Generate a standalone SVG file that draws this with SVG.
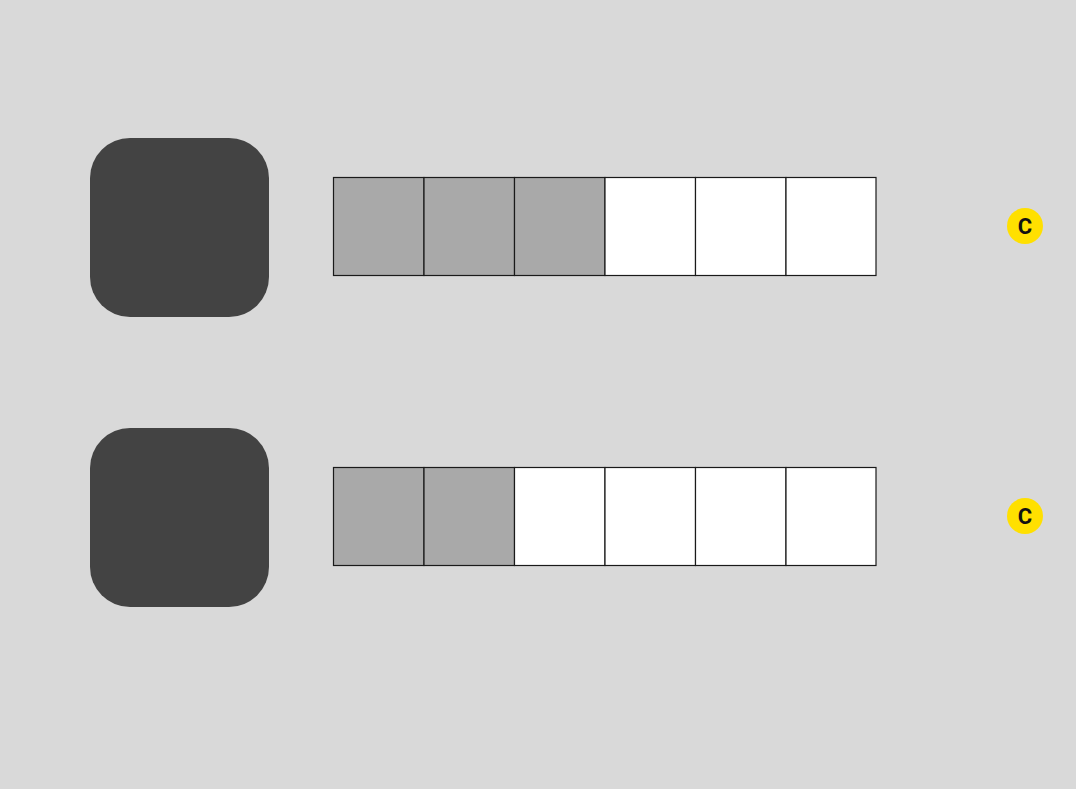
<svg xmlns="http://www.w3.org/2000/svg" width="1076" height="789" viewBox="0 0 1076 789">
<style>
.tile{fill:#434343}
.cell{stroke:#1a1a1a;stroke-width:1.2}
.on{fill:#a9a9a9}
.off{fill:#ffffff}
.badge{fill:#ffe000}
.lbl{font-family:Roboto,"Liberation Sans",sans-serif;font-weight:bold;font-size:22px;fill:#111;text-anchor:middle}
</style>
<rect width="1076" height="789" fill="#d9d9d9"/>
<g id="tile1"><rect class="tile" x="90" y="138" width="179" height="179" rx="40"/></g>
<g id="tile2"><rect class="tile" x="90" y="428" width="179" height="179" rx="40"/></g>
<g id="row1">
<rect class="cell on" x="333.5" y="177.5" width="90.5" height="98"/>
<rect class="cell on" x="424" y="177.5" width="90.5" height="98"/>
<rect class="cell on" x="514.5" y="177.5" width="90.5" height="98"/>
<rect class="cell off" x="605" y="177.5" width="90.5" height="98"/>
<rect class="cell off" x="695.5" y="177.5" width="90.5" height="98"/>
<rect class="cell off" x="786" y="177.5" width="90" height="98"/>
</g>
<g id="row2">
<rect class="cell on" x="333.5" y="467.5" width="90.5" height="98"/>
<rect class="cell on" x="424" y="467.5" width="90.5" height="98"/>
<rect class="cell off" x="514.5" y="467.5" width="90.5" height="98"/>
<rect class="cell off" x="605" y="467.5" width="90.5" height="98"/>
<rect class="cell off" x="695.5" y="467.5" width="90.5" height="98"/>
<rect class="cell off" x="786" y="467.5" width="90" height="98"/>
</g>
<g id="badge1"><circle class="badge" cx="1025" cy="226" r="18"/><text class="lbl" x="1025" y="234">C</text></g>
<g id="badge2"><circle class="badge" cx="1025" cy="516" r="18"/><text class="lbl" x="1025" y="524">C</text></g>
<g id="connectors"></g>
</svg>
